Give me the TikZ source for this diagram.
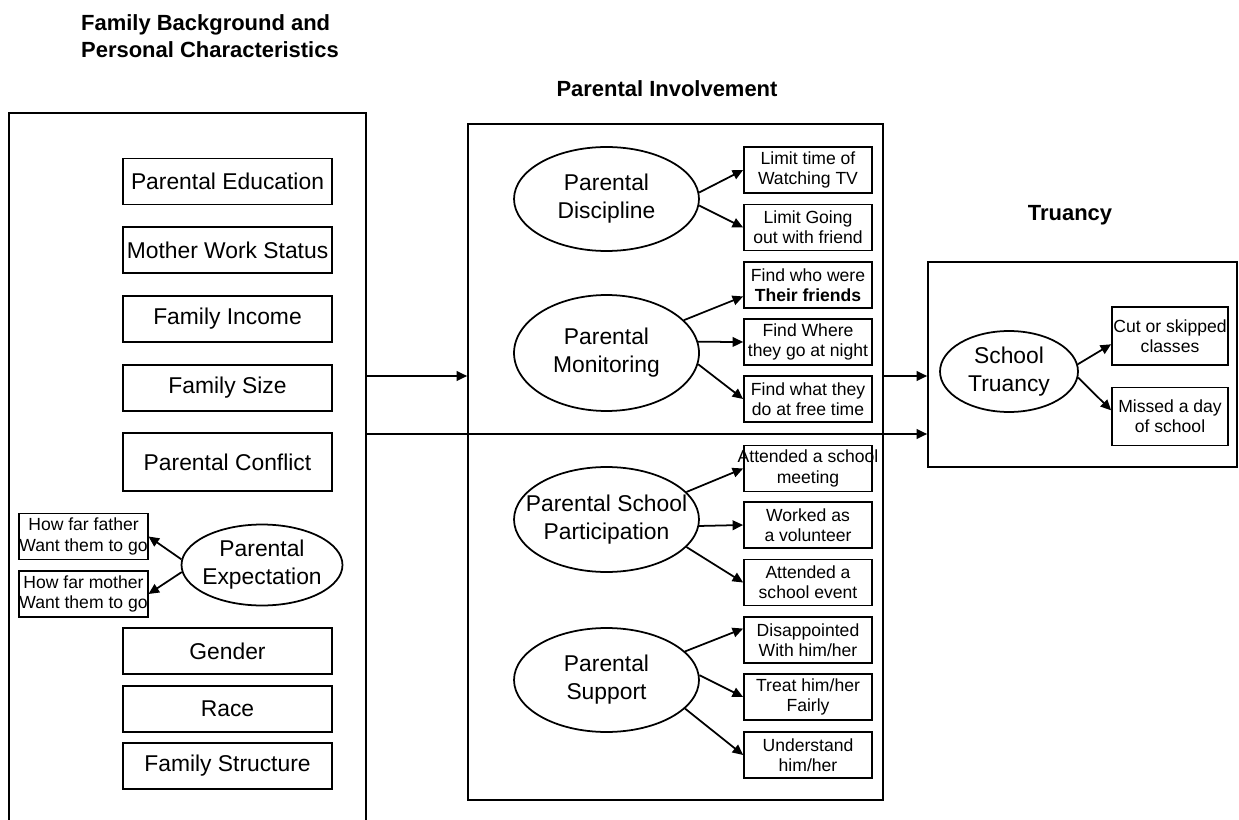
\documentclass[tikz,border=0pt]{standalone}
\usepackage{fontspec}
\setmainfont{Liberation Sans}
\usetikzlibrary{shapes.geometric,arrows.meta}

% a line that may stick out of its box on both sides
\newcommand{\wideline}[1]{\makebox[0pt]{#1}}

\begin{document}
\begin{tikzpicture}[x=0.02cm,y=-0.02cm,
    panel/.style={rectangle,draw,line width=1pt,inner sep=0pt},
    factor/.style={rectangle,draw,line width=1pt,minimum width=4.18cm,minimum height=0.92cm,inner sep=0pt,font=\fontsize{13}{16}\selectfont},
    item/.style={rectangle,draw,line width=1pt,minimum width=2.56cm,minimum height=0.92cm,inner sep=0pt,align=center,font=\fontsize{10}{11.5}\selectfont},
    oval/.style={ellipse,draw,line width=1pt,minimum width=3.7cm,minimum height=2.08cm,inner sep=0pt},
    ovaltext/.style={align=center,font=\fontsize{13}{16}\selectfont},
    heading/.style={font=\fontsize{12.5}{15.3}\selectfont\bfseries},
    arr/.style={-{Triangle[length=6pt,width=5.5pt]},line width=1pt}]
  \clip (0,0) rectangle (1239,820);

  % panels and their headings
  \node[panel,minimum width=7.14cm,minimum height=14.54cm] (fam) at (187.5,476.5) {};
  \node[panel,minimum width=8.3cm,minimum height=13.52cm] (inv) at (675.5,462) {};
  \node[panel,minimum width=6.18cm,minimum height=4.1cm] (tru) at (1082.5,364.5) {};
  \node[heading,align=left,anchor=west] (famhead) at (75,36) {Family Background and\\Personal Characteristics};
  \node[heading] (invhead) at (667,89) {Parental Involvement};
  \node[heading] (truhead) at (1070,215) {Truancy};

  % family background
  \node[factor] (edu) at (227.5,181.5) {Parental Education};
  \node[factor] (work) at (227.5,250) {Mother Work Status};
  \node[factor] (income) at (227.5,319) {Family Income};
  \node[factor] (size) at (227.5,388) {Family Size};
  \node[factor,minimum height=1.16cm] (conflict) at (227.5,462) {Parental Conflict};
  \node[factor] (gender) at (227.5,651) {Gender};
  \node[factor] (race) at (227.5,709) {Race};
  \node[factor] (struct) at (227.5,766) {Family Structure};

  \node[oval,minimum width=3.22cm,minimum height=1.62cm,
        label={[ovaltext]center:Parental\\Expectation}] (expect) at (262,565) {};
  \node[item,minimum width=2.54cm] (father) at (83.5,536.5) {How far father\\Want them to go};
  \node[item,minimum width=2.54cm] (mother) at (83.5,594) {How far mother\\Want them to go};
  \draw[arr] (expect.176) -- (father.east);
  \draw[arr] (expect.185) -- (mother.east);

  % parental involvement
  \node[oval,label={[ovaltext]center:Parental\\Discipline}] (disc) at (606.5,199) {};
  \node[oval,minimum height=2.32cm,label={[ovaltext]center:Parental\\Monitoring}] (mon) at (606.5,353) {};
  \node[oval,minimum height=2.1cm,label={[ovaltext]center:Parental School\\Participation}] (part) at (606.5,519.5) {};
  \node[oval,label={[ovaltext]center:Parental\\Support}] (supp) at (606.5,680) {};

  \node[item] (tv) at (808,170) {Limit time of\\Watching TV};
  \node[item] (going) at (808,227.5) {Limit Going\\out with friend};
  \node[item] (friends) at (808,285) {Find who were\\\textbf{Their friends}};
  \node[item] (night) at (808,342) {Find Where\\they go at night};
  \node[item] (free) at (808,399) {Find what they\\do at free time};
  \node[item] (meeting) at (808,468.5) {\wideline{Attended a school}\\meeting};
  \node[item] (volunteer) at (808,525) {Worked as\\a volunteer};
  \node[item] (event) at (808,582.5) {Attended a\\school event};
  \node[item] (disap) at (808,640) {Disappointed\\With him/her};
  \node[item] (fair) at (808,697) {Treat him/her\\Fairly};
  \node[item] (under) at (808,755) {Understand\\him/her};

  \draw[arr] (disc.4) -- (tv.west);
  \draw[arr] (disc.-4) -- (going.west);
  \draw[arr] (mon.23) -- (friends.190);
  \draw[arr] (mon.7) -- (night.west);
  \draw[arr] (mon.-7) -- (free.west);
  \draw[arr] (part.19) -- (meeting.west);
  \draw[arr] (part.-4) -- (volunteer.west);
  \draw[arr] (part.-19) -- (event.west);
  \draw[arr] (supp.20) -- (disap.170);
  \draw[arr] (supp.3) -- (fair.west);
  \draw[arr] (supp.-20) -- (under.west);

  % truancy
  \node[oval,minimum width=2.76cm,minimum height=1.62cm,
        label={[ovaltext]center:School\\Truancy}] (skip) at (1009,371.5) {};
  \node[item,minimum width=2.32cm,minimum height=1.16cm] (cut) at (1170,336) {Cut or skipped\\classes};
  \node[item,minimum width=2.32cm,minimum height=1.16cm] (missed) at (1170,416.5) {Missed a day\\of school};
  \draw[arr] (skip.6) -- (cut.188);
  \draw[arr] (skip.-5) -- (missed.174);

  % links between panels
  \coordinate (upper) at (0,376);
  \coordinate (lower) at (0,434);
  \draw[arr] (fam.east |- upper) -- (inv.west |- upper);
  \draw[arr] (inv.east |- upper) -- (tru.west |- upper);
  \draw[arr] (fam.east |- lower) -- (tru.west |- lower);
\end{tikzpicture}
\end{document}
